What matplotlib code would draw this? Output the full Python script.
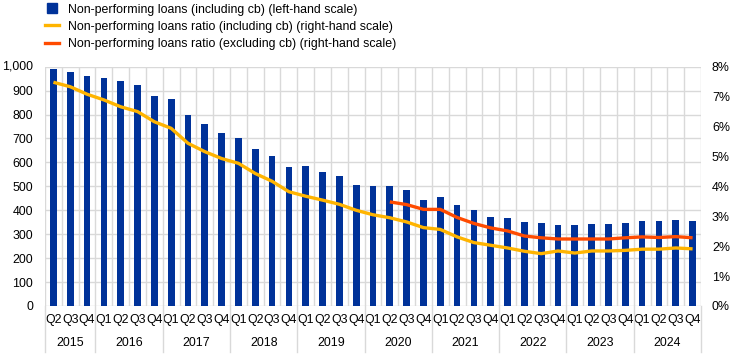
import matplotlib
matplotlib.use("Agg")
import matplotlib.pyplot as plt
import matplotlib.transforms as mtransforms
from matplotlib.lines import Line2D
import numpy as np

plt.rcParams['font.family'] = ['Liberation Sans', 'DejaVu Sans']

# ---------------- data ----------------
years = ['2015', '2016', '2017', '2018', '2019', '2020', '2021', '2022', '2023', '2024']
quarters_per_year = [['Q2', 'Q3', 'Q4']] + [['Q1', 'Q2', 'Q3', 'Q4']] * 9

npl_bn = [990, 978, 961, 953, 940, 923, 877, 866, 798, 760,
          722, 702, 655, 626, 580, 584, 559, 543, 505, 501,
          501, 484, 442, 455, 421, 400, 371, 367, 350, 346,
          338, 338, 342, 342, 346, 354, 354, 358, 354]

ratio_incl = [7.48, 7.33, 7.08, 6.89, 6.66, 6.50, 6.16, 5.94, 5.44, 5.16,
              4.93, 4.77, 4.43, 4.17, 3.82, 3.67, 3.54, 3.40, 3.20, 3.05,
              2.95, 2.81, 2.62, 2.56, 2.31, 2.12, 2.03, 1.94, 1.83, 1.75,
              1.84, 1.77, 1.84, 1.84, 1.86, 1.90, 1.90, 1.94, 1.91]

# excluding cb: available from 2020 Q2 onwards
ratio_excl = [None] * 20 + [3.48, 3.39, 3.23, 3.23, 2.96, 2.76, 2.61, 2.51, 2.34, 2.28,
                            2.24, 2.24, 2.24, 2.24, 2.28, 2.31, 2.29, 2.32, 2.28]

labels = ['Non-performing loans (including cb) (left-hand scale)',
          'Non-performing loans ratio (including cb) (right-hand scale)',
          'Non-performing loans ratio (excluding cb) (right-hand scale)']

BLUE = '#003299'
YELLOW = '#FFB400'
ORANGE = '#FF4B00'
GRID = '#d9d9d9'
FS = 8.95

# ---------------- figure ----------------
W, H = 746, 357
fig = plt.figure(figsize=(W / 100, H / 100), dpi=100)
ax_l, ax_r, ax_t, ax_b = 45, 701, 66.7, 306
ax = fig.add_axes([ax_l / W, 1 - ax_b / H, (ax_r - ax_l) / W, (ax_b - ax_t) / H])

q_labels = [q for ql in quarters_per_year for q in ql]
x = np.arange(len(q_labels))

ax.bar(x, npl_bn, width=0.4, color=BLUE, zorder=3)
ax.set_xlim(-0.5, len(x) - 0.5)
ax.set_ylim(0, 1000)
ax.set_yticks(np.arange(0, 1001, 100))
ax.set_yticklabels([f'{v:,}' if v < 1000 else '' for v in range(0, 1001, 100)])
ax.set_xticks(x)
ax.set_xticklabels(q_labels)
ax.tick_params(axis='both', length=0, labelsize=FS, colors='black')
ax.tick_params(axis='y', pad=8.6)
ax.tick_params(axis='x', pad=6.0)

# grid
ax.grid(axis='y', color=GRID, linewidth=1, zorder=0)
ax.set_xticks(np.arange(-0.5, len(x), 1.0), minor=True)
ax.tick_params(axis='x', which='minor', length=0)
ax.grid(axis='x', which='minor', color=GRID, linewidth=1, zorder=0)
ax.grid(axis='x', which='major', visible=False)
for s in ax.spines.values():
    s.set_visible(False)

# "1,000" label (shifted inside like the original)
trans_fy = mtransforms.blended_transform_factory(fig.transFigure, ax.transData)
fig.text(2.0 / W, 1000, '1,000', transform=trans_fy, ha='left', va='center', fontsize=FS)

# right axis
ax2 = ax.twinx()
ax2.set_ylim(0, 8)
ax2.set_yticks(range(0, 9))
ax2.set_yticklabels([f'{v}%' for v in range(0, 9)])
ax2.tick_params(axis='y', length=0, labelsize=FS, pad=7.9, colors='black')
for s in ax2.spines.values():
    s.set_visible(False)

ax2.plot(x, ratio_incl, color=YELLOW, linewidth=2.4, solid_capstyle='butt', zorder=4)
xe = [xi for xi, v in zip(x, ratio_excl) if v is not None]
ye = [v for v in ratio_excl if v is not None]
ax2.plot(xe, ye, color=ORANGE, linewidth=2.4, solid_capstyle='butt', zorder=5)

# year labels and separators
xtrans = ax.get_xaxis_transform()
axh = ax_b - ax_t
start = -0.5
bounds = [start]
for yr, ql in zip(years, quarters_per_year):
    end = start + len(ql)
    ax.text((start + end) / 2, -37 / axh, yr, transform=xtrans, ha='center', va='center',
            fontsize=FS, color='black')
    bounds.append(end)
    start = end
for b in bounds:
    ax.plot([b, b], [0, -46 / axh], transform=xtrans, color=GRID, linewidth=1, clip_on=False)

# legend
handles = [Line2D([], [], marker='s', markersize=7.2, linestyle='none', color=BLUE),
           Line2D([], [], color=YELLOW, linewidth=2.4),
           Line2D([], [], color=ORANGE, linewidth=2.4)]
fig.legend(handles, labels, loc='upper left', bbox_to_anchor=(45 / W, 1 - 3.5 / H),
           frameon=False, fontsize=FS, borderpad=0, borderaxespad=0,
           handlelength=1.1, handletextpad=0.75, labelspacing=0.42)

fig.savefig('out.png', dpi=100)
